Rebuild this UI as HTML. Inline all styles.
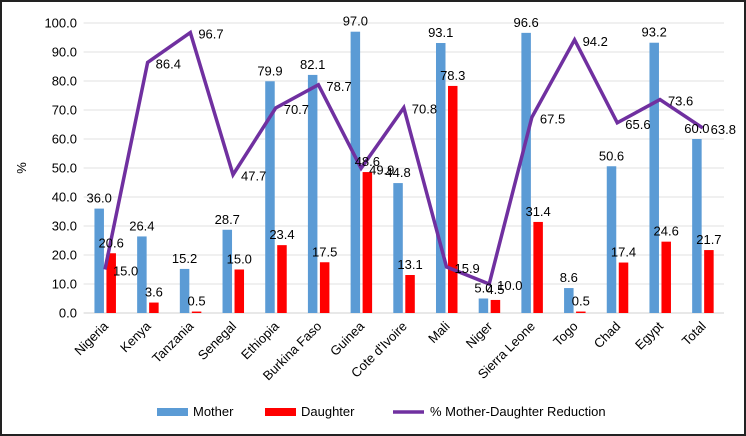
<!DOCTYPE html>
<html><head><meta charset="utf-8"><style>
body{margin:0;background:#fff}
svg{display:block;font-family:"Liberation Sans",Arial,sans-serif}
</style></head><body>
<svg id="chart" width="746" height="436" viewBox="0 0 746 436">
<rect x="1" y="1" width="744" height="434" fill="#fff" stroke="#222" stroke-width="2"/>
<g id="grid"></g><g id="bars"></g><g id="line"></g><g id="labels"></g><g id="axes"></g>
<text x="26" y="168" font-size="13" text-anchor="middle" transform="rotate(-90 26 168)">%</text>
<g>
<rect x="157" y="408" width="31" height="8" fill="#5b9bd5"/>
<text x="193" y="416" font-size="13">Mother</text>
<rect x="265" y="408" width="31" height="8" fill="#ff0000"/>
<text x="301" y="416" font-size="13">Daughter</text>
<line x1="393" y1="412" x2="424" y2="412" stroke="#7030a0" stroke-width="3.5"/>
<text x="430" y="416" font-size="13">% Mother-Daughter Reduction</text>
</g>
</svg>
<script>
const categories=["Nigeria","Kenya","Tanzania","Senegal","Ethiopia","Burkina Faso","Guinea","Cote d'Ivoire","Mali","Niger","Sierra Leone","Togo","Chad","Egypt","Total"];
const mother=[36.0,26.4,15.2,28.7,79.9,82.1,97.0,44.8,93.1,5.0,96.6,8.6,50.6,93.2,60.0];
const daughter=[20.6,3.6,0.5,15.0,23.4,17.5,48.6,13.1,78.3,4.5,31.4,0.5,17.4,24.6,21.7];
const reduction=[15.0,86.4,96.7,47.7,70.7,78.7,49.9,70.8,15.9,10.0,67.5,94.2,65.6,73.6,63.8];
const yTicks=[0,10,20,30,40,50,60,70,80,90,100];
const NS="http://www.w3.org/2000/svg";
const L=83.6,R=724,T=23,B=313;
const band=(R-L)/categories.length;
const y=v=>B-(v/100)*(B-T);
const xc=i=>L+band*(i+0.5);
function mk(tag,attrs,parent,txt){const e=document.createElementNS(NS,tag);for(const k in attrs)e.setAttribute(k,attrs[k]);if(txt!==undefined)e.textContent=txt;document.getElementById(parent).appendChild(e);return e;}
yTicks.forEach(t=>{
  const g=mk('line',{x1:L,x2:R,y1:y(t),y2:y(t),stroke:t===0?'#d0d0d0':'#e0e0e0','stroke-width':1},'grid');
  
  
  const lb=mk('text',{x:77,y:y(t)+4.5,'font-size':13,'text-anchor':'end'},'axes',t.toFixed(1));
  
  
});
const bw=9.5;
categories.forEach((c,i)=>{
  const cx=xc(i);
  const m=mk('rect',{x:cx-bw-1,y:y(mother[i]),width:bw,height:B-y(mother[i]),fill:'#5b9bd5'},'bars');
  
  
  const d=mk('rect',{x:cx+1.5,y:y(daughter[i]),width:bw,height:B-y(daughter[i]),fill:'#ff0000'},'bars');
  
  
  const ml=mk('text',{x:cx-bw/2-1,y:y(mother[i])-6,'font-size':13,'text-anchor':'middle'},'labels',mother[i].toFixed(1));
  
  
  const dl=mk('text',{x:cx+bw/2+1.5,y:y(daughter[i])-6,'font-size':13,'text-anchor':'middle'},'labels',daughter[i].toFixed(1));
  
  
  const rl=mk('text',{x:cx+8,y:y(reduction[i])+6,'font-size':13},'labels',reduction[i].toFixed(1));
  
  
  const xl=mk('text',{x:cx+4,y:B+14,'font-size':13,'text-anchor':'end',transform:`rotate(-45 ${cx+4} ${B+14})`},'axes',c);
  
  
});
const pl=mk('polyline',{points:reduction.map((v,i)=>xc(i)+','+y(v)).join(' '),fill:'none',stroke:'#7030a0','stroke-width':3.5,'stroke-linejoin':'miter'},'line');


</script>
</body></html>
